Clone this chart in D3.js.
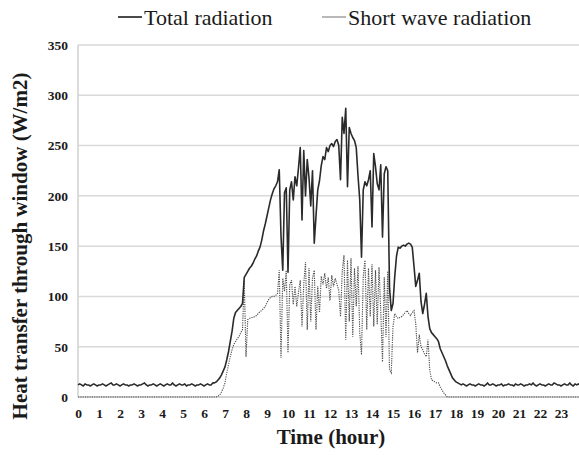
<!DOCTYPE html>
<html>
<head>
<meta charset="utf-8">
<script src="https://cdn.jsdelivr.net/npm/d3@7/dist/d3.min.js"></script>
<style>
  html, body { margin: 0; padding: 0; background: #fff; }
  svg { display: block; }
  text { font-family: "Liberation Serif", "Times New Roman", serif; fill: #1a1a1a; }
</style>
</head>
<body>
<svg id="chart" width="579" height="455"></svg>
<script>
// Samples every 5 minutes from 0:00 to 24:00 (one row per hour, plus 24:00)
const stepMinutes = 5;

// Total radiation through the window (W/m2)
const totalRadiation = [
  12,13,12,11,13,12,12,11,12,13,12,11,          // 0 h
  12,12,13,12,11,12,13,14,12,12,13,12,          // 1 h
  11,12,13,12,12,11,12,12,13,12,11,12,          // 2 h
  12,13,14,12,11,12,12,13,12,11,12,13,          // 3 h
  12,11,12,13,12,12,14,12,11,12,13,12,          // 4 h
  12,13,11,12,12,13,12,11,12,12,13,12,          // 5 h
  11,12,13,12,12,14,14,15,17,19,22,26,          // 6 h
  30,37,45,55,65,78,84,86,88,90,93,119,         // 7 h
  122,125,128,130,133,137,140,145,149,156,165,172, // 8 h
  180,188,196,202,207,210,214,226,160,126,203,208, // 9 h
  124,206,214,196,219,210,228,248,176,245,200,236, // 10 h
  218,190,225,153,180,206,215,230,239,236,248,244, // 11 h
  250,252,249,254,256,250,216,278,262,287,209,268, // 12 h
  262,258,255,248,220,196,139,206,214,210,216,225, // 13 h
  169,242,229,212,206,231,159,222,229,225,109,86,  // 14 h
  93,120,140,149,148,150,151,150,152,153,152,149,  // 15 h
  130,110,116,123,95,83,92,103,80,68,64,62,        // 16 h
  60,58,55,48,44,40,36,31,27,23,19,17,             // 17 h
  15,14,13,12,13,12,11,12,13,12,12,11,          // 18 h
  12,13,12,12,11,12,14,12,12,13,12,11,          // 19 h
  12,12,13,11,12,12,13,12,12,11,13,12,          // 20 h
  12,13,12,11,12,12,13,12,14,12,11,12,          // 21 h
  13,12,12,11,12,13,12,12,14,13,12,12,          // 22 h
  11,12,13,12,12,14,12,11,13,12,13,12,          // 23 h
  12                                            // 24 h
];

// Short wave radiation through the window (W/m2)
const shortWaveRadiation = [
  0,0,0,0,0,0,0,0,0,0,0,0,                      // 0 h
  0,0,0,0,0,0,0,0,0,0,0,0,                      // 1 h
  0,0,0,0,0,0,0,0,0,0,0,0,                      // 2 h
  0,0,0,0,0,0,0,0,0,0,0,0,                      // 3 h
  0,0,0,0,0,0,0,0,0,0,0,0,                      // 4 h
  0,0,0,0,0,0,0,0,0,0,0,0,                      // 5 h
  0,0,0,0,0,0,0,0,1,2,5,9,                      // 6 h
  14,24,32,40,47,52,55,58,60,64,67,116,         // 7 h
  40,77,78,79,79,80,81,83,85,86,88,90,          // 8 h
  94,97,99,100,100,101,103,126,39,118,105,126,  // 9 h
  44,112,116,92,110,90,104,116,70,112,134,67,   // 10 h
  128,75,118,126,67,110,84,120,112,123,108,119, // 11 h
  96,121,110,118,112,106,80,125,141,57,136,75,  // 12 h
  138,60,128,90,130,64,42,120,136,67,128,80,    // 13 h
  132,70,126,72,129,85,35,119,60,125,27,24,     // 14 h
  70,83,80,78,79,80,82,84,86,83,81,84,          // 15 h
  86,73,44,62,50,47,43,40,57,27,17,16,          // 16 h
  15,14,14,10,7,4,2,0,0,0,0,0,                  // 17 h
  0,0,0,0,0,0,0,0,0,0,0,0,                      // 18 h
  0,0,0,0,0,0,0,0,0,0,0,0,                      // 19 h
  0,0,0,0,0,0,0,0,0,0,0,0,                      // 20 h
  0,0,0,0,0,0,0,0,0,0,0,0,                      // 21 h
  0,0,0,0,0,0,0,0,0,0,0,0,                      // 22 h
  0,0,0,0,0,0,0,0,0,0,0,0,                      // 23 h
  0                                             // 24 h
];

const hourTicks = d3.range(0, 24);           // 0 … 23
const valueTicks = [0, 50, 100, 150, 200, 250, 300, 350];
const seriesNames = ["Total radiation", "Short wave radiation"];

const svg = d3.select("#chart");
const plotLeft = 78, plotRight = 579, plotTop = 45, plotBottom = 397;

const x = d3.scaleLinear().domain([0, 24]).range([plotLeft, plotLeft + 24 * 21]);
const y = d3.scaleLinear().domain([0, 350]).range([plotBottom, plotTop]);

const hourOf = i => i * stepMinutes / 60;

// Horizontal gridlines
svg.append("g")
  .selectAll("line")
  .data(valueTicks.filter(v => v > 0))
  .join("line")
  .attr("x1", plotLeft).attr("x2", plotRight)
  .attr("y1", d => y(d)).attr("y2", d => y(d))
  .attr("stroke", "#d9d9d9").attr("stroke-width", 1.5);

// Axis lines
svg.append("line")
  .attr("x1", plotLeft).attr("x2", plotLeft).attr("y1", plotTop).attr("y2", plotBottom)
  .attr("stroke", "#d0d0d0").attr("stroke-width", 1.5);
svg.append("line")
  .attr("x1", plotLeft).attr("x2", plotRight).attr("y1", plotBottom).attr("y2", plotBottom)
  .attr("stroke", "#c4c4c4").attr("stroke-width", 1.5);

// Y tick labels
const yAxis = d3.axisLeft(y).tickValues(valueTicks).tickSize(0).tickPadding(10);
svg.append("g")
  .attr("transform", `translate(${plotLeft},0)`)
  .call(yAxis)
  .call(g => g.select(".domain").remove())
  .selectAll("text")
  .attr("font-family", "Liberation Serif")
  .attr("font-weight", "bold")
  .attr("font-size", 13.5)
  .attr("fill", "#111");

// X tick labels
const xAxis = d3.axisBottom(x).tickValues(hourTicks).tickFormat(d3.format("d")).tickSize(0).tickPadding(11);
svg.append("g")
  .attr("transform", `translate(0,${plotBottom})`)
  .call(xAxis)
  .call(g => g.select(".domain").remove())
  .selectAll("text")
  .attr("font-family", "Liberation Serif")
  .attr("font-weight", "bold")
  .attr("font-size", 13.5)
  .attr("fill", "#111");

// Series lines
const line = d3.line().x((d, i) => x(hourOf(i))).y(d => y(d));

svg.append("path")
  .datum(shortWaveRadiation)
  .attr("d", line)
  .attr("fill", "none")
  .attr("stroke", "#4e4e4e")
  .attr("stroke-width", 1.15)
  .attr("stroke-dasharray", "1.2,1.1");

svg.append("path")
  .datum(totalRadiation)
  .attr("d", line)
  .attr("fill", "none")
  .attr("stroke", "#2a2a2a")
  .attr("stroke-width", 1.6)
  .attr("stroke-linejoin", "round");

// Legend
const legend = svg.append("g");
const legendItems = [
  { name: seriesNames[0], x0: 118, stroke: "#2a2a2a", width: 1.7 },
  { name: seriesNames[1], x0: 322, stroke: "#9a9a9a", width: 1.4 }
];
legendItems.forEach(d => {
  legend.append("line")
    .attr("x1", d.x0).attr("x2", d.x0 + 24)
    .attr("y1", 17).attr("y2", 17)
    .attr("stroke", d.stroke).attr("stroke-width", d.width);
  legend.append("text")
    .attr("x", d.x0 + 26).attr("y", 25)
    .attr("font-size", 22)
    .text(d.name);
});

// Axis titles
svg.append("text")
  .attr("x", 331).attr("y", 444)
  .attr("text-anchor", "middle")
  .attr("font-weight", "bold")
  .attr("font-size", 21)
  .text("Time (hour)");

svg.append("text")
  .attr("transform", "translate(27,246) rotate(-90)")
  .attr("text-anchor", "middle")
  .attr("font-weight", "bold")
  .attr("font-size", 21)
  .text("Heat transfer through window (W/m2)");
</script>
</body>
</html>
